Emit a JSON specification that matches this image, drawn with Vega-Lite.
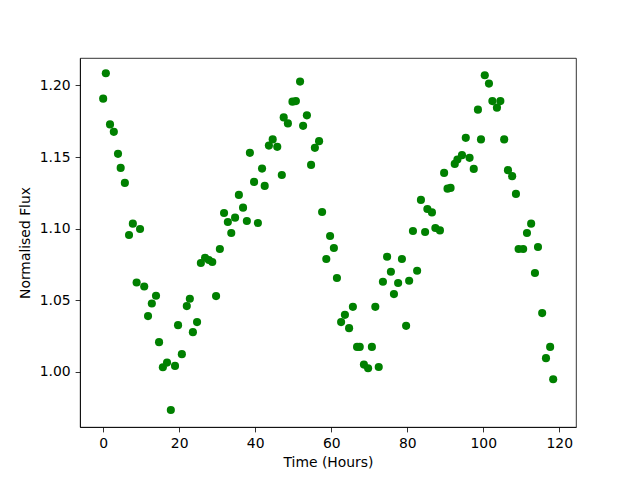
{
  "$schema": "https://vega.github.io/schema/vega-lite/v6.json",
  "width": 496,
  "height": 369,
  "autosize": {"type": "none"},
  "padding": {"left": 80, "top": 58, "right": 64, "bottom": 53},
  "background": "white",
  "config": {
    "view": {"stroke": "#000000", "strokeWidth": 0.8},
    "axis": {
      "grid": false,
      "domainColor": "#000000",
      "domainWidth": 0.8,
      "tickColor": "#000000",
      "tickWidth": 0.8,
      "tickSize": 4.9,
      "labelPadding": 4.9,
      "labelFont": "DejaVu Sans",
      "labelFontSize": 13.9,
      "labelColor": "#000000",
      "titleFont": "DejaVu Sans",
      "titleFontSize": 13.9,
      "titleFontWeight": "normal",
      "titleColor": "#000000"
    }
  },
  "data": {
    "values": [
      {"t": 0.0, "flux": 1.1908}, {"t": 0.7, "flux": 1.2085}, {"t": 1.8, "flux": 1.1728}, {"t": 2.8, "flux": 1.1676},
      {"t": 3.9, "flux": 1.1522}, {"t": 4.6, "flux": 1.1424}, {"t": 5.7, "flux": 1.1319}, {"t": 6.8, "flux": 1.0955},
      {"t": 7.8, "flux": 1.1034}, {"t": 8.8, "flux": 1.0623}, {"t": 9.7, "flux": 1.0997}, {"t": 10.8, "flux": 1.0595},
      {"t": 11.8, "flux": 1.0388}, {"t": 12.8, "flux": 1.0476}, {"t": 13.9, "flux": 1.053}, {"t": 14.7, "flux": 1.0206},
      {"t": 15.7, "flux": 1.0031}, {"t": 16.8, "flux": 1.0063}, {"t": 17.8, "flux": 0.9732}, {"t": 18.9, "flux": 1.004},
      {"t": 19.7, "flux": 1.0325}, {"t": 20.7, "flux": 1.0122}, {"t": 22.0, "flux": 1.0458}, {"t": 22.8, "flux": 1.0509},
      {"t": 23.6, "flux": 1.0276}, {"t": 24.7, "flux": 1.0346}, {"t": 25.7, "flux": 1.0759}, {"t": 26.8, "flux": 1.0796},
      {"t": 27.8, "flux": 1.078}, {"t": 28.7, "flux": 1.0766}, {"t": 29.7, "flux": 1.0528}, {"t": 30.7, "flux": 1.0857},
      {"t": 31.8, "flux": 1.1109}, {"t": 32.8, "flux": 1.1046}, {"t": 33.7, "flux": 1.0969}, {"t": 34.7, "flux": 1.1076},
      {"t": 35.7, "flux": 1.1235}, {"t": 36.8, "flux": 1.1146}, {"t": 37.8, "flux": 1.1053}, {"t": 38.6, "flux": 1.1529},
      {"t": 39.7, "flux": 1.1326}, {"t": 40.7, "flux": 1.1039}, {"t": 41.8, "flux": 1.1419}, {"t": 42.5, "flux": 1.1298},
      {"t": 43.6, "flux": 1.158}, {"t": 44.6, "flux": 1.1623}, {"t": 45.8, "flux": 1.1571}, {"t": 47.0, "flux": 1.1374},
      {"t": 47.5, "flux": 1.1777}, {"t": 48.6, "flux": 1.1735}, {"t": 49.8, "flux": 1.1887}, {"t": 50.7, "flux": 1.1891},
      {"t": 51.8, "flux": 1.2027}, {"t": 52.6, "flux": 1.1718}, {"t": 53.6, "flux": 1.1791}, {"t": 54.7, "flux": 1.1445},
      {"t": 55.7, "flux": 1.1564}, {"t": 56.8, "flux": 1.1611}, {"t": 57.6, "flux": 1.1116}, {"t": 58.7, "flux": 1.0787},
      {"t": 59.7, "flux": 1.0948}, {"t": 60.7, "flux": 1.0864}, {"t": 61.5, "flux": 1.0654}, {"t": 62.6, "flux": 1.0346},
      {"t": 63.6, "flux": 1.0397}, {"t": 64.7, "flux": 1.0304}, {"t": 65.7, "flux": 1.0453}, {"t": 66.8, "flux": 1.0173},
      {"t": 67.5, "flux": 1.0173}, {"t": 68.6, "flux": 1.0049}, {"t": 69.7, "flux": 1.0024}, {"t": 70.7, "flux": 1.0173},
      {"t": 71.6, "flux": 1.0453}, {"t": 72.5, "flux": 1.0032}, {"t": 73.6, "flux": 1.0628}, {"t": 74.7, "flux": 1.0803},
      {"t": 75.7, "flux": 1.0698}, {"t": 76.5, "flux": 1.0542}, {"t": 77.6, "flux": 1.0619}, {"t": 78.6, "flux": 1.0787},
      {"t": 79.7, "flux": 1.032}, {"t": 80.5, "flux": 1.0635}, {"t": 81.5, "flux": 1.0983}, {"t": 82.6, "flux": 1.0705},
      {"t": 83.6, "flux": 1.12}, {"t": 84.7, "flux": 1.0976}, {"t": 85.3, "flux": 1.1137}, {"t": 86.5, "flux": 1.1113},
      {"t": 87.4, "flux": 1.1004}, {"t": 88.6, "flux": 1.0987}, {"t": 89.7, "flux": 1.1389}, {"t": 90.6, "flux": 1.1279},
      {"t": 91.4, "flux": 1.1284}, {"t": 92.5, "flux": 1.1452}, {"t": 93.2, "flux": 1.1483}, {"t": 94.4, "flux": 1.1513},
      {"t": 95.4, "flux": 1.1634}, {"t": 96.4, "flux": 1.1494}, {"t": 97.5, "flux": 1.1417}, {"t": 98.6, "flux": 1.1831},
      {"t": 99.4, "flux": 1.1623}, {"t": 100.4, "flux": 1.2071}, {"t": 101.5, "flux": 1.2013}, {"t": 102.4, "flux": 1.1891},
      {"t": 103.6, "flux": 1.1845}, {"t": 104.5, "flux": 1.1891}, {"t": 105.5, "flux": 1.1623}, {"t": 106.5, "flux": 1.1408},
      {"t": 107.6, "flux": 1.1366}, {"t": 108.6, "flux": 1.1242}, {"t": 109.3, "flux": 1.0857}, {"t": 110.5, "flux": 1.0857},
      {"t": 111.5, "flux": 1.0969}, {"t": 112.6, "flux": 1.1034}, {"t": 113.6, "flux": 1.0689}, {"t": 114.4, "flux": 1.0871},
      {"t": 115.5, "flux": 1.0409}, {"t": 116.5, "flux": 1.0094}, {"t": 117.6, "flux": 1.0173}, {"t": 118.4, "flux": 0.9947}
    ]
  },
  "mark": {"type": "circle", "color": "#008000", "opacity": 1, "size": 66},
  "encoding": {
    "x": {
      "field": "t",
      "type": "quantitative",
      "title": "Time (Hours)",
      "scale": {"domain": [-6.1, 124.4], "nice": false, "zero": false},
      "axis": {"values": [0, 20, 40, 60, 80, 100, 120], "format": "d", "titlePadding": 5}
    },
    "y": {
      "field": "flux",
      "type": "quantitative",
      "title": "Normalised Flux",
      "scale": {"domain": [0.9613, 1.2192], "nice": false, "zero": false},
      "axis": {"values": [1.0, 1.05, 1.1, 1.15, 1.2], "format": ".2f", "titlePadding": 7}
    }
  }
}
